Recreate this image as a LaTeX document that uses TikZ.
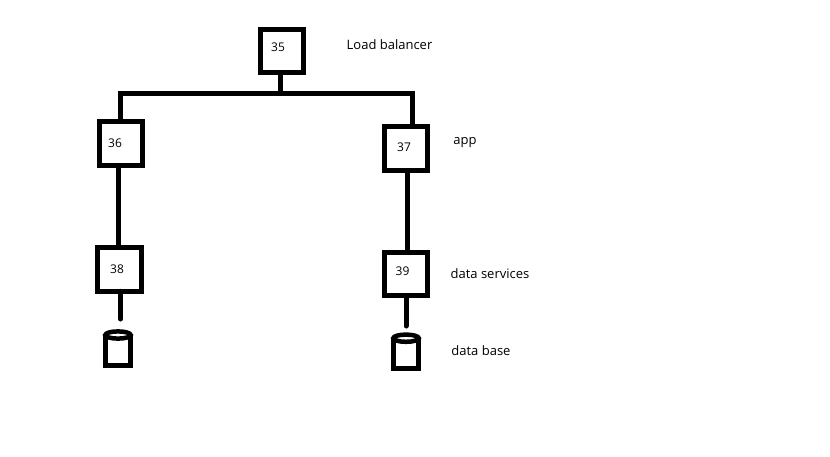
\documentclass[tikz,border=0pt]{standalone}
\usepackage{fontspec}
\setmainfont{Open Sans}
\usetikzlibrary{positioning}

\tikzset{
    srv/.style={draw, rectangle, line width=5pt, minimum size=43.5pt, inner sep=0pt, outer sep=0pt},
    num/.style={font=\fontsize{12}{14}\selectfont, inner sep=0pt},
    tag/.style={font=\fontsize{13}{15}\selectfont, inner sep=0pt},
    wire/.style={line width=5pt},
    stub/.style={line width=5pt, line cap=round},
    db/.pic={
        \draw[line width=5pt] (-12.5,-13.3) -- (-12.5,17) -- (12.5,17) -- (12.5,-13.3);
        \draw[line width=4.5pt] (0,-13.3) ellipse [x radius=12.7pt, y radius=3.6pt];
    }
}

\begin{document}
\begin{tikzpicture}[x=1pt, y=-1pt, on grid]
    \useasboundingbox (0,0) rectangle (830,456);

    \node[srv, label={[num, xshift=-4pt, yshift=4pt]center:35}] (s_35) at (282,51) {};
    \node[srv, label={[num, xshift=-6pt]center:36}] (s_36) at (121,143.5) {};
    \node[srv, label={[num, xshift=-2pt, yshift=1pt]center:37}] (s_37) [below right=5pt and 285pt of s_36] {};
    \node[srv, label={[num, xshift=-2.5pt]center:38}] (s_38) [below left=126pt and 1.5pt of s_36] {};
    \node[srv, label={[num, xshift=-3.5pt, yshift=3pt]center:39}] (s_39) [below=125.5pt of s_37] {};

    \pic at (118,348.3) {db};
    \pic at (406,351.5) {db};

    \node[tag] (t_lb) at (389.5,44.5) {Load balancer};
    \node[tag] (t_app) at (465,143) {app};
    \node[tag] (t_ds) at (490,273.7) {data services};
    \node[tag] (t_db) at (481,350.7) {data base};

    \coordinate (b_l) at (120,93);
    \coordinate (b_r) at (412,93);
    \coordinate (e_38) at (120.5,319);
    \coordinate (e_39) at (406,326);

    % bus
    \draw[wire] (b_l |- s_36.north) -- (b_l) -- (b_r) -- (b_r |- s_37.north);
    \draw[wire] ([xshift=-1.5pt]s_35.south) -- ([xshift=-1.5pt]s_35.south |- b_l);

    \draw[wire] ([xshift=-1.5pt]s_38.north) -- ([xshift=-1.5pt]s_38.north |- s_36.south);
    \draw[wire] ([xshift=1.5pt]s_39.north) -- ([xshift=1.5pt]s_39.north |- s_37.south);

    \draw[stub] (e_38 |- s_38.south) -- (e_38);
    \draw[stub] (e_39 |- s_39.south) -- (e_39);
\end{tikzpicture}
\end{document}
